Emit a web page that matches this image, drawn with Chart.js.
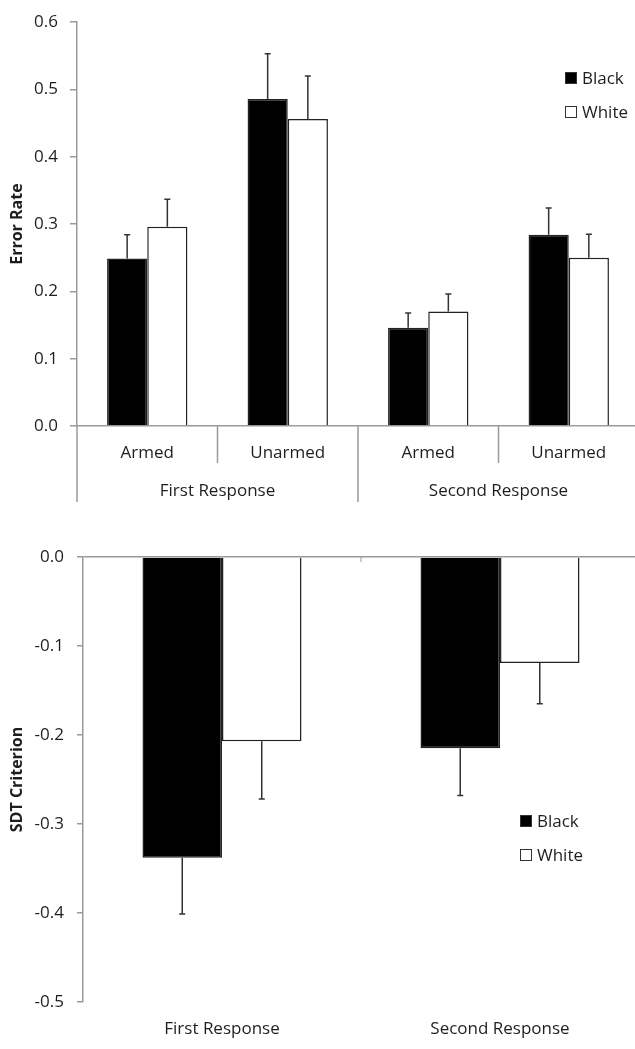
<!DOCTYPE html>
<html>
<head>
<meta charset="utf-8">
<script src="https://cdn.jsdelivr.net/npm/chart.js@4.4.0/dist/chart.umd.min.js"></script>
<style>
  html, body { margin: 0; padding: 0; background: #fff; overflow: hidden; width: 635px; height: 1049px; }
  canvas { display: block; }
</style>
</head>
<body>
<canvas id="rates" width="639" height="520"></canvas>
<canvas id="criterion" width="639" height="529"></canvas>
<script>
const seriesNames = ["Black", "White"];

// top panel: error rates
const rateCategories = ["Armed", "Unarmed", "Armed", "Unarmed"];
const rateGroups = ["First Response", "Second Response"];
const blackRates = [0.249, 0.486, 0.146, 0.284];
const whiteRates = [0.296, 0.456, 0.170, 0.250];
const blackRateErr = [0.035, 0.067, 0.022, 0.040];
const whiteRateErr = [0.041, 0.064, 0.026, 0.035];
const rateTicks = [0, 0.1, 0.2, 0.3, 0.4, 0.5, 0.6];

// bottom panel: SDT criterion
const critCategories = ["First Response", "Second Response"];
const blackCrit = [-0.338, -0.215];
const whiteCrit = [-0.207, -0.119];
const blackCritErr = [0.063, 0.053];
const whiteCritErr = [0.065, 0.046];
const critTicks = [-0.5, -0.4, -0.3, -0.2, -0.1, 0];

const axisGray = "#9a9a9a";
const textColor = "#1e1e1e";

Chart.defaults.font.family = "'Open Sans', sans-serif";
Chart.defaults.font.size = 17;
Chart.defaults.color = textColor;

// whiskers going away from zero, with a small cap
const errorBars = {
  id: "errorBars",
  afterDatasetsDraw(chart) {
    const { ctx } = chart;
    const y = chart.scales.y;
    ctx.save();
    ctx.strokeStyle = "#333";
    ctx.lineWidth = 1.5;
    chart.data.datasets.forEach((ds, di) => {
      const meta = chart.getDatasetMeta(di);
      meta.data.forEach((bar, i) => {
        const v = ds.data[i];
        const end = y.getPixelForValue(v + Math.sign(v) * ds.errors[i]);
        const start = y.getPixelForValue(v);
        ctx.beginPath();
        ctx.moveTo(bar.x, start);
        ctx.lineTo(bar.x, end);
        ctx.moveTo(bar.x - 3, end);
        ctx.lineTo(bar.x + 3, end);
        ctx.stroke();
      });
    });
    ctx.restore();
  }
};

const boxLegend = {
  id: "boxLegend",
  afterDraw(chart, args, opts) {
    const { ctx } = chart;
    ctx.save();
    ctx.font = "17px 'Open Sans', sans-serif";
    ctx.textBaseline = "middle";
    chart.data.datasets.forEach((ds, i) => {
      const top = opts.y + i * 34;
      ctx.fillStyle = ds.backgroundColor;
      ctx.fillRect(opts.x, top, 12, 12);
      ctx.strokeStyle = "#333";
      ctx.lineWidth = 1;
      ctx.strokeRect(opts.x + 0.5, top + 0.5, 11, 11);
      ctx.fillStyle = textColor;
      ctx.fillText(ds.label, opts.x + 17, top + 7);
    });
    ctx.restore();
  }
};

// category dividers and group labels under the top panel
const rateDividers = {
  id: "rateDividers",
  afterDraw(chart) {
    const { ctx, chartArea } = chart;
    const x = chart.scales.x;
    const step = x.getPixelForValue(1) - x.getPixelForValue(0);
    const left = x.getPixelForValue(0) - step / 2;
    const perGroup = rateCategories.length / rateGroups.length;
    ctx.save();
    ctx.strokeStyle = axisGray;
    ctx.lineWidth = 1.5;
    for (let i = 0; i <= rateCategories.length; i++) {
      const px = left + i * step;
      const len = i % perGroup === 0 ? 76 : 37;
      ctx.beginPath();
      ctx.moveTo(px, chartArea.bottom);
      ctx.lineTo(px, chartArea.bottom + len);
      ctx.stroke();
    }
    ctx.fillStyle = textColor;
    ctx.font = "17px 'Open Sans', sans-serif";
    ctx.textAlign = "center";
    ctx.textBaseline = "middle";
    rateGroups.forEach((g, gi) => {
      const cx = left + (gi + 0.5) * perGroup * step;
      ctx.fillText(g, cx, chartArea.bottom + 65);
    });
    ctx.restore();
  }
};

// little tick marks on the zero line between categories
const zeroTicks = {
  id: "zeroTicks",
  afterDraw(chart) {
    const { ctx, chartArea } = chart;
    const x = chart.scales.x;
    const step = x.getPixelForValue(1) - x.getPixelForValue(0);
    ctx.save();
    ctx.strokeStyle = axisGray;
    ctx.lineWidth = 1;
    for (let i = 1; i < critCategories.length; i++) {
      const px = x.getPixelForValue(0) - step / 2 + i * step;
      ctx.beginPath();
      ctx.moveTo(px, chartArea.top);
      ctx.lineTo(px, chartArea.top + 5);
      ctx.stroke();
    }
    ctx.restore();
  }
};

function barSet(label, data, errors, fill) {
  return {
    label: label,
    data: data,
    errors: errors,
    backgroundColor: fill,
    borderColor: "#222",
    borderWidth: 1.5,
    categoryPercentage: 0.572,
    barPercentage: 1.0
  };
}

new Chart(document.getElementById("rates"), {
  type: "bar",
  data: {
    labels: rateCategories,
    datasets: [
      barSet(seriesNames[0], blackRates, blackRateErr, "#000"),
      barSet(seriesNames[1], whiteRates, whiteRateErr, "#fff")
    ]
  },
  options: {
    responsive: false,
    animation: false,
    layout: { padding: { top: 12, right: 0, bottom: 0, left: 0 } },
    plugins: {
      legend: { display: false },
      tooltip: { enabled: false },
      boxLegend: { x: 565, y: 72 }
    },
    scales: {
      x: {
        grid: { display: false, drawTicks: false },
        border: { color: axisGray, width: 1.5 },
        ticks: { padding: 17 },
        afterFit: (s) => { s.height = 94; }
      },
      y: {
        min: 0,
        max: 0.6,
        afterBuildTicks: (s) => { s.ticks = rateTicks.map((v) => ({ value: v })); },
        ticks: { padding: 12, callback: (v) => Number(v).toFixed(1) },
        grid: { drawOnChartArea: false, tickLength: 7, color: axisGray, lineWidth: 1.5 },
        border: { color: axisGray, width: 1.5 },
        title: {
          display: true,
          text: "Error Rate",
          font: { size: 16, weight: "bold" },
          padding: { top: 8, bottom: 0 }
        },
        afterFit: (s) => { s.width = 77; }
      }
    }
  },
  plugins: [errorBars, boxLegend, rateDividers]
});

new Chart(document.getElementById("criterion"), {
  type: "bar",
  data: {
    labels: critCategories,
    datasets: [
      barSet(seriesNames[0], blackCrit, blackCritErr, "#000"),
      barSet(seriesNames[1], whiteCrit, whiteCritErr, "#fff")
    ]
  },
  options: {
    responsive: false,
    animation: false,
    layout: { padding: { top: 37, right: 0, bottom: 0, left: 0 } },
    plugins: {
      legend: { display: false },
      tooltip: { enabled: false },
      boxLegend: { x: 520, y: 295 }
    },
    scales: {
      x: {
        grid: { display: false, drawTicks: false },
        border: { display: false },
        ticks: { padding: 17 },
        afterFit: (s) => { s.height = 47; }
      },
      y: {
        min: -0.5,
        max: 0,
        afterBuildTicks: (s) => { s.ticks = critTicks.map((v) => ({ value: v })); },
        ticks: { padding: 13, callback: (v) => Number(v).toFixed(1) },
        grid: {
          color: (c) => (c.tick && c.tick.value === 0 ? axisGray : "rgba(0,0,0,0)"),
          tickColor: axisGray,
          tickLength: 6,
          lineWidth: 1.5
        },
        border: { color: axisGray, width: 1.5 },
        title: {
          display: true,
          text: "SDT Criterion",
          font: { size: 16, weight: "bold" },
          padding: { top: 8, bottom: 0 }
        },
        afterFit: (s) => { s.width = 83; }
      }
    }
  },
  plugins: [errorBars, boxLegend, zeroTicks]
});
</script>
</body>
</html>
